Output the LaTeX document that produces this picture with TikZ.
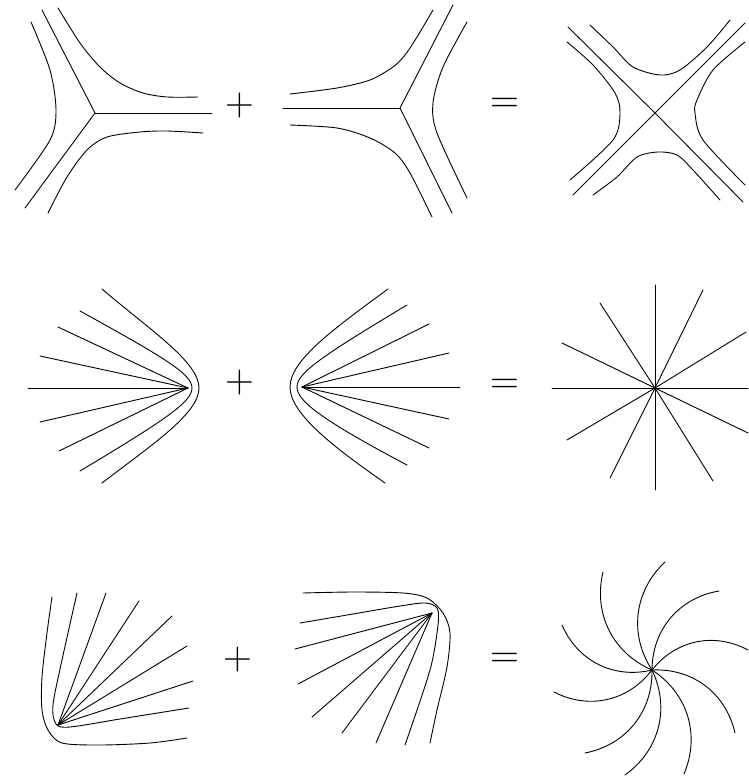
\documentclass[tikz,border=0pt]{standalone}
\usepackage{fontspec}
\usepackage{tikz}

\begin{document}
\begin{tikzpicture}[x=1pt,y=-1pt,
  flow/.style={line width=0.9pt,line cap=round},
  sign/.style={inner sep=0pt,font=\fontsize{40}{40}\selectfont}]
\useasboundingbox (0,0) rectangle (748,780);
% row 1: two Y junctions give a saddle
\coordinate (j1) at (95,113);
\draw[flow] (42,10) -- (j1) -- (25,208);
\draw[flow] (j1) -- (212,113);
\draw[flow] plot[smooth] coordinates {(58,8) (80,43) (100,67) (120,83) (143,93) (167,97) (198,97)};
\draw[flow] plot[smooth] coordinates {(48,213) (67,177) (87,150) (107,137) (140,132) (167,131) (203,133)};
\draw[flow] plot[smooth] coordinates {(31,22) (50,70) (56,110) (50,140) (15,190)};
\node[sign] (plusA) at (240,106) {+};
\coordinate (j2) at (400,108);
\draw[flow] (453,5) -- (j2) -- (452,213);
\draw[flow] (283,108) -- (j2);
\draw[flow] plot[smooth] coordinates {(290,94) (337,88) (370,80) (393,67) (405,55) (417,37) (433,10)};
\draw[flow] plot[smooth] coordinates {(290,125) (337,128) (370,138) (395,153) (410,173) (432,217)};
\draw[flow] plot[smooth] coordinates {(467,22) (443,67) (433,103) (437,133) (467,198)};
\node[sign] (eqA) at (505,105) {=};
\coordinate (x3) at (655,113);
\draw[flow] (568,27) -- (x3) -- (743,202);
\draw[flow] (573,195) -- (x3) -- (745,23);
\draw[flow] plot[smooth] coordinates {(590,25) (613,47) (633,67) (660,75) (680,70) (707,47) (730,20)};
\draw[flow] plot[smooth] coordinates {(593,195) (617,177) (637,157) (658,152) (677,155) (693,170) (720,200)};
\draw[flow] plot[smooth] coordinates {(567,42) (593,65) (615,93) (620,113) (613,140) (570,180)};
\draw[flow] plot[smooth] coordinates {(745,42) (713,70) (697,100) (695,113) (703,140) (745,185)};
% row 2: two half sources give a node
\coordinate (f4) at (188,388);
\foreach \x/\y in {58/327,40/356,28/388,40/422,59/451}
  \draw[flow] (f4) -- (\x,\y);
\draw[flow] (80,311) .. controls (165,358) and (192,374) .. (192,388)
  .. controls (192,402) and (165,420) .. (80,471);
\draw[flow] (102,289) .. controls (150,330) and (199,362) .. (199,388)
  .. controls (199,414) and (150,446) .. (102,483);
\node[sign] (plusB) at (240,383) {+};
\coordinate (f5) at (302,387);
\foreach \x/\y in {429/324,449/353,460/387,449/419,429/448}
  \draw[flow] (f5) -- (\x,\y);
\draw[flow] (407,305) .. controls (322,356) and (297,373) .. (297,387)
  .. controls (297,401) and (322,420) .. (407,465);
\draw[flow] (388,289) .. controls (335,328) and (290,360) .. (290,387)
  .. controls (290,414) and (335,448) .. (385,483);
\node[sign] (eqB) at (505,386) {=};
\coordinate (c6) at (655,388);
\foreach \x/\y in {655/285,703/290,746/332,748/388,748/433,713/481,
                   655/490,610/478,567/440,552/388,562/343,600/303}
  \draw[flow] (c6) -- (\x,\y);
% row 3: two corner fans give a spiral
\coordinate (f7) at (58,725);
\foreach \x/\y in {106/593,139/601,172/616,187/646,193/681}
  \draw[flow] (f7) -- (\x,\y);
\draw[flow] plot[smooth] coordinates {(77,593) (62,660) (53,705) (56,724) (70,727) (120,719) (189,708)};
\draw[flow] plot[smooth] coordinates {(52,597) (47,633) (42,677) (42,710) (48,730) (62,743) (100,745) (150,743) (187,738)};
\node[sign] (plusC) at (238,660) {+};
\coordinate (f8) at (432,613);
\foreach \x/\y in {295/649,298/684,312/717,342/733,376/743}
  \draw[flow] (f8) -- (\x,\y);
\draw[flow] plot[smooth] coordinates {(300,623) (353,614) (400,606) (425,603) (437,608) (438,625) (430,670) (405,745)};
\draw[flow] plot[smooth] coordinates {(303,593) (353,592) (403,593) (427,598) (443,613) (450,633) (447,667) (437,710) (430,743)};
\node[sign] (eqC) at (505,660) {=};
\coordinate (c9) at (652,670);
\foreach \x/\y in {665/562,719/591,748/650,735/733,684/774,
                   625/775,585/753,554/692,562/625,603/572}
  \draw[flow] (c9) to[bend left=40] (\x,\y);
\end{tikzpicture}
\end{document}
